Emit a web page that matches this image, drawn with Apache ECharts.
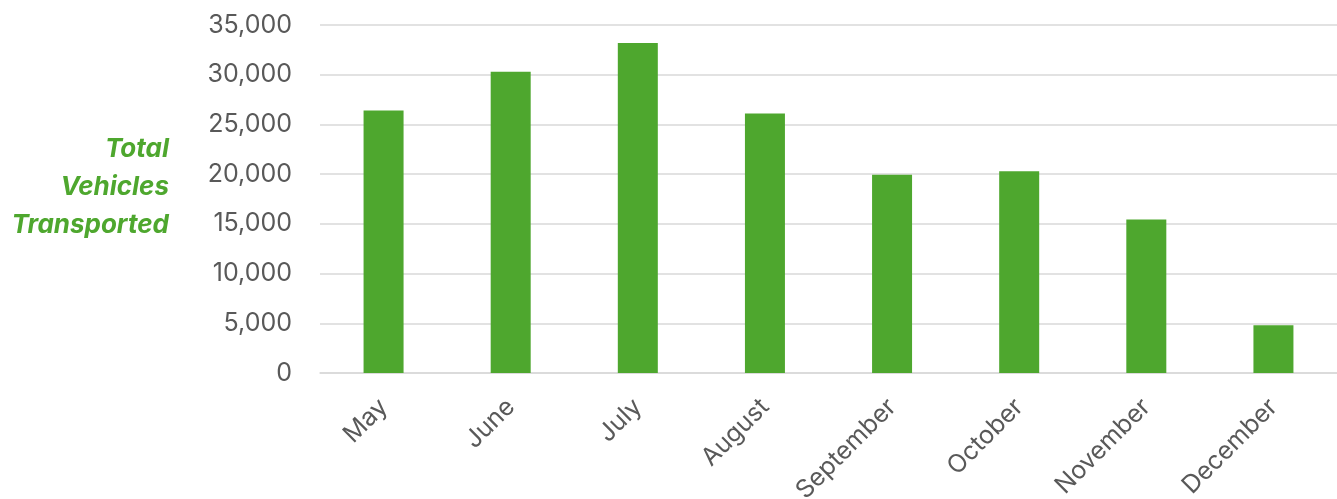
<!DOCTYPE html>
<html>
<head>
<meta charset="utf-8">
<script src="https://cdn.jsdelivr.net/npm/echarts@6/dist/echarts.min.js"></script>
<style>
  html, body { margin: 0; padding: 0; background: #ffffff; }
  #chart { width: 1337px; height: 499px; }
</style>
</head>
<body>
<div id="chart"></div>
<script>
// Monthly totals of vehicles transported
const months = ['May', 'June', 'July', 'August', 'September', 'October', 'November', 'December'];
const vehicles = [26400, 30300, 33200, 26100, 19950, 20300, 15450, 4800];
const yTicks = { min: 0, max: 35000, step: 5000 };
const axisTitle = 'Total\nVehicles\nTransported';

const green = '#4EA72E';
const textGrey = '#595959';
const gridGrey = '#D9D9D9';
const font = 'Inter, "Liberation Sans", Arial, sans-serif';

const chart = echarts.init(document.getElementById('chart'), null, { renderer: 'canvas' });
chart.setOption({
  animation: false,
  backgroundColor: '#ffffff',
  grid: {
    left: 320, right: 0, top: 25, bottom: 126,
    containLabel: false,
    outerBoundsMode: 'none'
  },
  graphic: [{
    type: 'text',
    right: 1337 - 169,
    top: 130,
    style: {
      text: axisTitle,
      fill: green,
      font: 'italic bold 26px ' + font,
      textAlign: 'right',
      lineHeight: 38
    }
  }],
  xAxis: {
    type: 'category',
    data: months,
    axisLine: { show: true, lineStyle: { color: gridGrey, width: 1.5 } },
    axisTick: { show: false },
    axisLabel: {
      rotate: 45,
      color: textGrey,
      fontFamily: font,
      fontSize: 25,
      margin: 30,
      interval: 0
    }
  },
  yAxis: {
    type: 'value',
    min: yTicks.min,
    max: yTicks.max,
    interval: yTicks.step,
    axisLine: { show: false },
    axisTick: { show: false },
    splitLine: { lineStyle: { color: gridGrey, width: 1.5 } },
    axisLabel: {
      color: textGrey,
      fontFamily: font,
      fontSize: 25,
      margin: 28,
      formatter: v => v.toLocaleString('en-US')
    }
  },
  series: [{
    type: 'bar',
    data: vehicles,
    barWidth: 40,
    itemStyle: { color: green }
  }]
});
</script>
</body>
</html>
